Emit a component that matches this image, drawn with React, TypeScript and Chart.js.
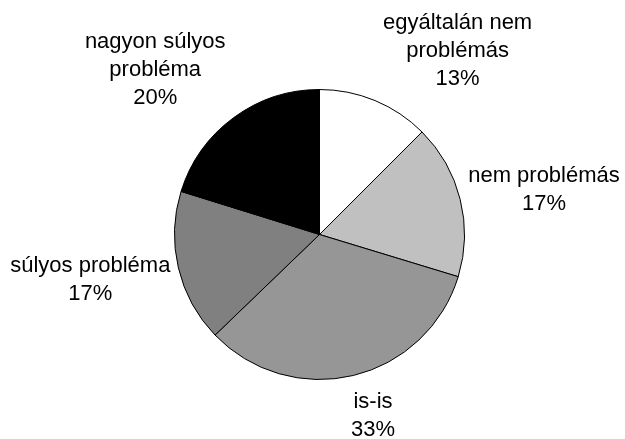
import React, { useEffect, useRef } from "react";
import { Chart, registerables } from "chart.js";

Chart.register(...registerables);

const categories: string[][] = [
  ["egyáltalán nem", "problémás"],
  ["nem problémás"],
  ["is-is"],
  ["súlyos probléma"],
  ["nagyon súlyos", "probléma"],
];
const shares: number[] = [12.5, 17.2, 33.1, 17.0, 20.2];
const percentLabels: string[] = ["13%", "17%", "33%", "17%", "20%"];
const sliceColors: string[] = ["#FFFFFF", "#C0C0C0", "#969696", "#808080", "#000000"];

const FONT = '22px "Liberation Sans", Arial, sans-serif';
const LINE_H = 28;
const GAP_X = 8;
const GAP_Y = 10;
const BIAS_Y = 2;

const outsideLabels = {
  id: "outsideLabels",
  afterDatasetsDraw(chart: any) {
    const ctx = chart.ctx as CanvasRenderingContext2D;
    const meta = chart.getDatasetMeta(0);
    ctx.save();
    ctx.font = FONT;
    ctx.fillStyle = "#000";
    ctx.textAlign = "center";
    ctx.textBaseline = "middle";
    meta.data.forEach((arc: any, i: number) => {
      const p = arc.getProps(["x", "y", "startAngle", "endAngle", "outerRadius"], true);
      const mid = (p.startAngle + p.endAngle) / 2;
      const dx = Math.cos(mid);
      const dy = Math.sin(mid);
      const ax = p.x + dx * p.outerRadius;
      const ay = p.y + dy * p.outerRadius;
      const lines = [...categories[i], percentLabels[i]];
      const w = Math.max(...lines.map((l) => ctx.measureText(l).width));
      const h = lines.length * LINE_H;
      const kx = Math.max(-1, Math.min(1, dx * 2.8));
      const ky = Math.max(-1, Math.min(1, dy * 1.2));
      const cx = ax + kx * (w / 2 + GAP_X);
      const cy = ay + ky * (h / 2 + GAP_Y) + BIAS_Y;
      lines.forEach((line, j) => {
        const ly = cy + (j - (lines.length - 1) / 2) * LINE_H;
        ctx.fillText(line, cx, ly);
      });
    });
    ctx.restore();
  },
};

export default function App() {
  const ref = useRef<HTMLCanvasElement | null>(null);
  useEffect(() => {
    if (!ref.current) return;
    const chart = new Chart(ref.current, {
      type: "pie",
      data: {
        labels: categories.map((c) => c.join(" ")),
        datasets: [
          {
            data: shares,
            backgroundColor: sliceColors,
            borderColor: "#000000",
            borderWidth: 1,
          },
        ],
      },
      options: {
        responsive: false,
        animation: false,
        layout: { padding: { left: 174, right: 160, top: 89, bottom: 59 } },
        plugins: {
          legend: { display: false },
          tooltip: { enabled: false },
        },
      },
      plugins: [outsideLabels],
    });
    return () => chart.destroy();
  }, []);
  return (
    <div style={{ position: "fixed", left: 0, top: 0, width: 625, height: 439, background: "#fff" }}>
      <canvas ref={ref} width={625} height={439} />
    </div>
  );
}
